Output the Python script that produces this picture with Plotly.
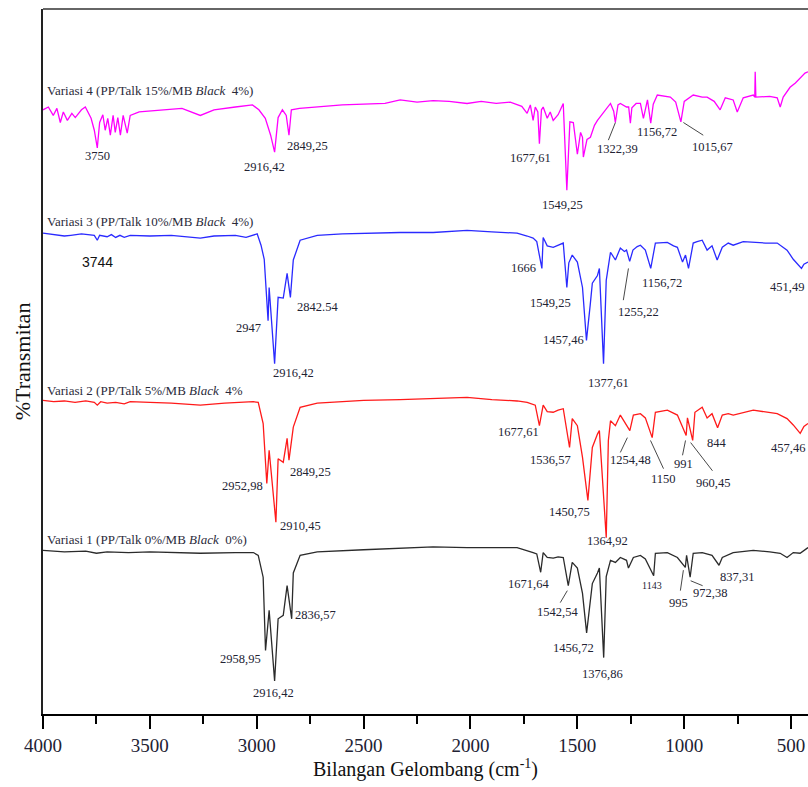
import plotly.graph_objects as go

# ---------------- data (wavenumber cm-1, %T stacked) ----------------
wn_v4 = [4000, 3975, 3952, 3935, 3919, 3905, 3886, 3865, 3849, 3820, 3802, 3775, 3760, 3746, 3735, 3720, 3709, 3697,
         3685, 3672, 3662, 3650, 3638, 3625, 3606, 3592, 3550, 3450, 3350, 3264, 3200, 3100, 3020, 2990, 2960, 2935,
         2916.42, 2900, 2880, 2862, 2849.25, 2838, 2800, 2600, 2400, 2329, 2250, 2175, 2100, 2016, 1950, 1880, 1814,
         1760, 1735, 1720, 1707, 1697, 1685, 1677.61, 1668, 1660, 1641, 1627, 1613, 1590, 1566, 1549.25, 1535, 1519,
         1500, 1485, 1476, 1472, 1455, 1439, 1420, 1406, 1380, 1345, 1330, 1322.39, 1310, 1299, 1270, 1260, 1252,
         1245, 1225, 1205, 1191, 1172, 1156.72, 1145, 1126, 1080, 1065, 1040, 1015.67, 1000, 958, 916, 893, 860, 832,
         808, 790, 771, 752, 724, 677, 670, 668, 665, 600, 565, 551, 537, 505, 480, 435, 421]
t_v4 = [85.7, 86.1, 84.9, 85.9, 83.9, 85.4, 84.2, 85.2, 84.6, 85.7, 86.1, 84.5, 82.8, 80.3, 83.9, 85.0, 82.8, 84.5,
        82.1, 84.9, 82.5, 84.6, 82.1, 84.9, 82.4, 84.9, 85.4, 85.7, 85.9, 84.9, 85.7, 86.1, 86.4, 85.7, 84.5, 82.1,
        79.7, 84.6, 85.7, 84.9, 82.1, 85.7, 85.9, 86.4, 86.6, 87.1, 86.8, 87.0, 86.9, 86.6, 86.9, 86.6, 86.8,
        86.2, 85.2, 86.4, 84.2, 86.1, 85.4, 80.9, 85.7, 86.1, 84.5, 85.4, 84.2, 85.0, 86.6, 74.3, 84.0, 83.9,
        79.4, 82.5, 81.8, 79.0, 81.5, 81.8, 83.5, 84.2, 85.2, 86.6, 85.5, 83.9, 86.4, 86.6, 86.1, 86.1, 83.8,
        86.0, 86.6, 86.6, 84.5, 87.1, 83.8, 86.5, 87.8, 87.6, 87.5, 86.8, 84.0, 86.9, 87.8, 87.5, 87.5, 86.9, 85.7,
        87.4, 87.3, 87.1, 85.4, 87.4, 87.8, 87.5, 91.1, 87.5, 87.6, 87.4, 86.1, 87.5, 88.9, 89.5, 90.9, 91.1]

wn_v3 = [4000, 3950, 3900, 3870, 3820, 3760, 3746, 3735, 3700, 3680, 3660, 3640, 3620, 3592, 3500, 3400, 3264, 3200,
         3100, 3050, 3016, 2998, 2980, 2965, 2947, 2942, 2916.42, 2900, 2876, 2858, 2842.54, 2829, 2797, 2717, 2600,
         2500, 2329, 2175, 2016, 1900, 1782, 1735, 1707, 1690, 1666, 1660, 1641, 1613, 1590, 1566, 1549.25, 1540,
         1524, 1500, 1476, 1457.46, 1440, 1430, 1406, 1397, 1377.61, 1365, 1360, 1345, 1322, 1299, 1280, 1270,
         1255.22, 1240, 1220, 1205, 1182, 1156.72, 1135, 1100, 1079, 1050, 1032, 1008, 994, 980, 958, 940, 916, 893,
         870, 846, 822, 794, 771, 724, 677, 620, 565, 519, 490, 451.49, 440, 421]
t_v3 = [68.2, 68.0, 67.8, 67.9, 68.1, 67.9, 67.2, 67.9, 67.7, 68.0, 67.6, 67.9, 67.6, 67.9, 67.8, 67.9, 67.5, 67.8,
        67.9, 67.6, 68.0, 68.1, 66.5, 64.5, 55.8, 60.5, 49.7, 59.1, 59.0, 62.5, 59.1, 64.4, 67.2, 67.9, 68.1,
        68.2, 68.3, 68.3, 68.6, 68.4, 68.2, 67.8, 67.5, 67.0, 63.2, 67.6, 66.4, 66.2, 66.5, 66.8, 60.5, 64.0,
        65.1, 64.1, 60.5, 53.0, 58.0, 61.1, 62.2, 63.2, 49.7, 61.5, 62.5, 65.5, 64.4, 66.1, 65.6, 65.8,
        64.2, 65.8, 66.3, 66.5, 65.8, 63.2, 66.8, 66.8, 66.9, 66.4, 66.2, 64.1, 65.1, 63.2, 66.8, 67.0, 67.2, 65.8,
        66.4, 64.4, 66.2, 66.8, 66.5, 67.0, 66.9, 66.8, 66.8, 65.8, 64.5, 63.2, 63.8, 64.1]

wn_v2 = [4000, 3950, 3900, 3850, 3800, 3760, 3746, 3730, 3700, 3660, 3620, 3592, 3500, 3400, 3264, 3150, 3016, 2993,
         2970, 2952.98, 2942, 2910.45, 2900, 2876, 2858, 2849.25, 2829, 2797, 2717, 2500, 2329, 2175, 2016, 1900,
         1782, 1735, 1697, 1677.61, 1660, 1641, 1613, 1590, 1566, 1536.57, 1524, 1500, 1476, 1450.75, 1430, 1406,
         1397, 1364.92, 1355, 1345, 1322, 1299, 1280, 1254.48, 1238, 1205, 1182, 1150, 1135, 1079, 1032, 991, 985,
         960.45, 950, 916, 893, 870, 844, 822, 794, 771, 677, 565, 519, 490, 457.46, 440, 421]
t_v2 = [44.5, 44.3, 44.4, 44.2, 44.4, 44.2, 43.8, 44.3, 44.1, 44.2, 44.0, 44.3, 44.2, 44.1, 43.8, 44.1, 44.3, 44.2,
        41.2, 32.7, 37.4, 27.2, 36.2, 35.7, 39.1, 36.0, 40.7, 43.5, 44.1, 44.5, 44.6, 44.7, 44.9, 44.6,
        44.4, 44.2, 43.8, 40.9, 43.8, 42.9, 42.8, 43.1, 43.3, 37.8, 41.9, 40.9, 36.4, 30.3, 37.8, 39.7,
        40.2, 25.0, 38.8, 41.6, 40.9, 42.4, 41.5, 40.2, 42.4, 42.6, 42.0, 39.2, 42.8, 43.1, 42.4, 39.5, 42.0,
        38.8, 42.8, 43.5, 42.0, 42.6, 40.6, 42.4, 42.6, 42.4, 43.1, 42.6, 41.9, 41.0, 39.8, 40.8, 41.2]

wn_v1 = [4000, 3900, 3800, 3750, 3700, 3600, 3500, 3264, 3100, 3016, 2993, 2970, 2958.95, 2942, 2916.42, 2900, 2876,
         2858, 2836.57, 2829, 2797, 2717, 2500, 2329, 2175, 2016, 1782, 1707, 1690, 1671.64, 1660, 1641, 1613, 1590,
         1566, 1542.54, 1524, 1500, 1476, 1456.72, 1430, 1406, 1397, 1376.86, 1365, 1345, 1322, 1299, 1270, 1261,
         1238, 1205, 1182, 1143, 1135, 1079, 1032, 995, 989, 972.38, 958, 916, 870, 837.31, 822, 771, 677, 600, 551,
         519, 490, 458, 440, 421]
t_v1 = [23.2, 23.0, 23.1, 22.8, 23.0, 22.9, 23.0, 22.8, 22.9, 22.9, 22.5, 19.4, 9.0, 14.7, 4.7, 13.5, 14.0,
        18.2, 13.5, 20.0, 22.5, 23.0, 23.3, 23.5, 23.7, 23.6, 23.6, 22.9, 22.7, 20.1, 22.9, 22.2, 22.1, 22.3,
        22.2, 18.2, 21.5, 20.7, 17.1, 11.5, 18.5, 20.0, 20.7, 8.0, 19.5, 21.8, 21.5, 22.2, 21.8, 20.7,
        22.2, 22.5, 22.0, 19.6, 22.8, 22.9, 22.2, 20.8, 22.5, 19.4, 22.8, 22.9, 22.5, 21.1, 22.2, 22.9, 23.2, 23.0, 22.8,
        22.2, 22.9, 22.8, 23.2, 23.6]

series_names = ["Variasi 4 (PP/Talk 15%/MB <i>Black</i>  4%)",
                "Variasi 3 (PP/Talk 10%/MB <i>Black</i>  4%)",
                "Variasi 2 (PP/Talk 5%/MB <i>Black</i>  4%",
                "Variasi 1 (PP/Talk 0%/MB <i>Black</i>  0%)"]
series_colors = ["#ff00ff", "#2a2aff", "#ff1a1a", "#2b2b2b"]

x_tickvals = [4000, 3500, 3000, 2500, 2000, 1500, 1000, 500]
x_minor = [3750, 3250, 2750, 2250, 1750, 1250, 750]

# peak labels: (text, wavenumber, %T)
peak_labels = [
    ("3750", 3746, 79.1), ("2916,42", 2965, 77.6), ("2849,25", 2764, 80.5), ("1677,61", 1721, 78.8),
    ("1549,25", 1571, 72.2), ("1322,39", 1314, 80.1), ("1156,72", 1127, 82.5), ("1015,67", 870, 80.4),
    ("2947", 3040, 54.7), ("2916,42", 2829, 48.4), ("2842.54", 2717, 57.8), ("1666", 1754, 63.2),
    ("1549,25", 1627, 58.3), ("1457,46", 1567, 53.0), ("1377,61", 1356, 47.0), ("1255,22", 1216, 57.0),
    ("1156,72", 1104, 61.2), ("451,49", 519, 60.5),
    ("2952,98", 3068, 32.4), ("2910,45", 2797, 26.7), ("2849,25", 2750, 34.3), ("1677,61", 1777, 40.0),
    ("1536,57", 1627, 36.1), ("1450,75", 1539, 28.6), ("1364,92", 1361, 24.5), ("1254,48", 1253, 36.1),
    ("1150", 1099, 33.4), ("991", 1005, 35.5), ("960,45", 865, 32.7), ("844", 846, 38.4), ("457,46", 514, 37.7),
    ("2958,95", 3077, 7.8), ("2916,42", 2923, 3.0), ("2836,57", 2726, 14.0), ("1671,64", 1730, 18.5),
    ("1542,54", 1595, 14.5), ("1456,72", 1520, 9.3), ("1376,86", 1384, 5.7), ("1143", 1150, 18.2),
    ("995", 1029, 15.8), ("972,38", 879, 17.1), ("837,31", 753, 19.5),
]
name_label_T = [88.5, 69.8, 45.9, 24.8]

leaders = [((1322, 83.9), (1355, 81.4)), ((1004, 83.9), (911, 82.1)), ((1261, 63.2), (1285, 58.7)),
           ((1266, 39.2), (1299, 37.1)), ((1158, 38.8), (1097, 34.8)), ((994, 38.8), (1008, 36.7)),
           ((970, 38.5), (868, 34.5)), ((1547, 17.5), (1580, 15.8)), ((1004, 20.4), (1018, 17.5)),
           ((970, 18.9), (914, 18.2))]

# ---------------- figure ----------------
FONT = "Liberation Serif"
fig = go.Figure()
for wn, t, c in zip([wn_v4, wn_v3, wn_v2, wn_v1], [t_v4, t_v3, t_v2, t_v1], series_colors):
    fig.add_trace(go.Scatter(x=wn, y=t, mode="lines", line=dict(color=c, width=1.3), showlegend=False,
                             hoverinfo="skip"))

ann = []
for name, ty in zip(series_names, name_label_T):
    ann.append(dict(x=0.002, xref="paper", y=ty, yref="y", text=name, showarrow=False, xanchor="left",
                    font=dict(family=FONT, size=13, color="#2a2a3a")))
for txt, xx, yy in peak_labels:
    size = 10 if txt == "1143" else 12.5
    ann.append(dict(x=xx, y=yy, text=txt, showarrow=False, font=dict(family=FONT, size=size, color="#222233")))
ann.append(dict(x=3746, y=64.1, text="3744", showarrow=False,
                font=dict(family="Liberation Sans", size=14, color="#111111")))

shapes = [dict(type="line", xref="paper", yref="paper", x0=0, x1=1, y0=1, y1=1,
               line=dict(color="#333333", width=1.5))]
for (a, b) in leaders:
    shapes.append(dict(type="line", x0=a[0], y0=a[1], x1=b[0], y1=b[1], line=dict(color="#333333", width=0.9)))

fig.update_layout(
    width=808, height=787, margin=dict(l=43, r=0, t=9, b=73),
    paper_bgcolor="white", plot_bgcolor="white",
    annotations=ann, shapes=shapes,
    xaxis=dict(range=[4000, 421], tickvals=x_tickvals, ticktext=[str(v) for v in x_tickvals],
               ticks="outside", ticklen=13, tickwidth=2, tickcolor="black", automargin=False,
               minor=dict(tickvals=x_minor, ticks="outside", ticklen=8, tickwidth=2, tickcolor="black"),
               showline=True, linewidth=2, linecolor="black", showgrid=False, zeroline=False,
               tickfont=dict(family=FONT, size=19, color="#222233"),
               title=dict(text="Bilangan Gelombang (cm<sup>-1</sup>)", font=dict(family=FONT, size=20, color="#111"),
                          standoff=6)),
    yaxis=dict(range=[0, 100], showticklabels=False, ticks="", showline=True, linewidth=2, linecolor="#222",
               showgrid=False, zeroline=False, automargin=False,
               title=dict(text="%Transmitan", font=dict(family=FONT, size=22, color="#111"), standoff=4)),
)

fig.write_html("out.html", config={"displayModeBar": False},
               post_script="document.body.style.margin='0px';document.body.style.overflow='hidden';")
